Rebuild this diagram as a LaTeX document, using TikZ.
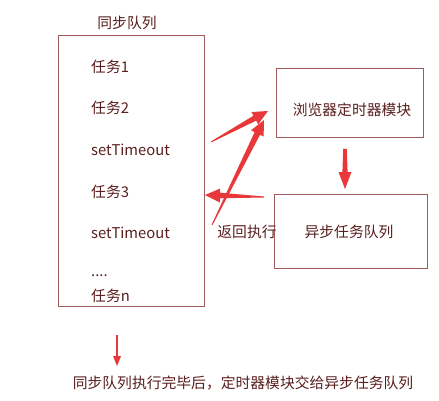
\documentclass[tikz,border=0pt]{standalone}
\usepackage{fontspec}
\setmainfont{Noto Sans CJK SC}
\usetikzlibrary{arrows.meta,calc}
\definecolor{txt}{HTML}{5A1E1E}
\definecolor{edge}{HTML}{A05A5A}
\definecolor{arr}{HTML}{E8383A}
\tikzset{
  box/.style={draw=edge, line width=0.8pt, inner sep=0pt},
  lbl/.style={text=txt, font=\fontsize{14.8}{16}\selectfont, inner sep=0pt},
  item/.style={lbl, anchor=west},
}
% tapered arrow: #1 tail, #2 head, #3 tail half-width, #4 shaft half-width, #5 head half-width, #6 head length
\newcommand\taperarrow[6]{%
  \fill[arr] ($(#1)!#3!90:(#2)$) -- ($($(#2)!#6!(#1)$)!#4!-90:(#1)$)
    -- ($($(#2)!#6!(#1)$)!#5!-90:(#1)$) -- (#2)
    -- ($($(#2)!#6!(#1)$)!#5!90:(#1)$) -- ($($(#2)!#6!(#1)$)!#4!90:(#1)$)
    -- ($(#1)!#3!-90:(#2)$) -- cycle;}
\begin{document}
\begin{tikzpicture}[x=1pt,y=-1pt]
\useasboundingbox (0,0) rectangle (439,401);
\fill[white] (0,0) rectangle (439,401);
% left box
\node[box, minimum width=146pt, minimum height=271pt] (sync) at (131,170.5) {};
\node[lbl] (title) at (127,23) {同步队列};
\node[item] (t1) at (91,67) {任务1};
\node[item] (t2) at (91,108) {任务2};
\node[item] (st1) at (91,150) {setTimeout};
\node[item] (t3) at (91,192) {任务3};
\node[item] (st2) at (91,233) {setTimeout};
\node[item] (dots) at (91,276) {....};
\node[item] (tn) at (91,296) {任务n};
% right boxes
\node[box, minimum width=147pt, minimum height=69pt] (timer) at (349.5,102.5) {};
\node[lbl] (timertxt) at (352,110) {浏览器定时器模块};
\node[box, minimum width=153pt, minimum height=74pt] (async) at (350.5,231) {};
\node[lbl] (asynctxt) at (349,232) {异步任务队列};
\node[lbl] (ret) at (247,232) {返回执行};
% bottom note
\node[lbl] (note) at (243,383) {同步队列执行完毕后，定时器模块交给异步任务队列};
% arrow coordinates
\coordinate (a1s) at (211,142);
\coordinate (a1e) at (268,111);
\coordinate (a2s) at (212,225);
\coordinate (a2e) at (264,120);
\coordinate (a3s) at (264,197);
\coordinate (a3e) at (205,195);
\coordinate (a4s) at (345,149);
\coordinate (a4e) at (345,189);
\coordinate (a5s) at (117,335);
\coordinate (a5e) at (117,366);
\taperarrow{a1s}{a1e}{0.5pt}{2.8pt}{7pt}{15pt}
\taperarrow{a2s}{a2e}{0.5pt}{3pt}{7pt}{15pt}
\taperarrow{a3s}{a3e}{0.5pt}{2.8pt}{7pt}{15pt}
\taperarrow{a4s}{a4e}{1.8pt}{2.6pt}{6.5pt}{17pt}
\taperarrow{a5s}{a5e}{0.8pt}{1pt}{4pt}{10pt}
\end{tikzpicture}
\end{document}
